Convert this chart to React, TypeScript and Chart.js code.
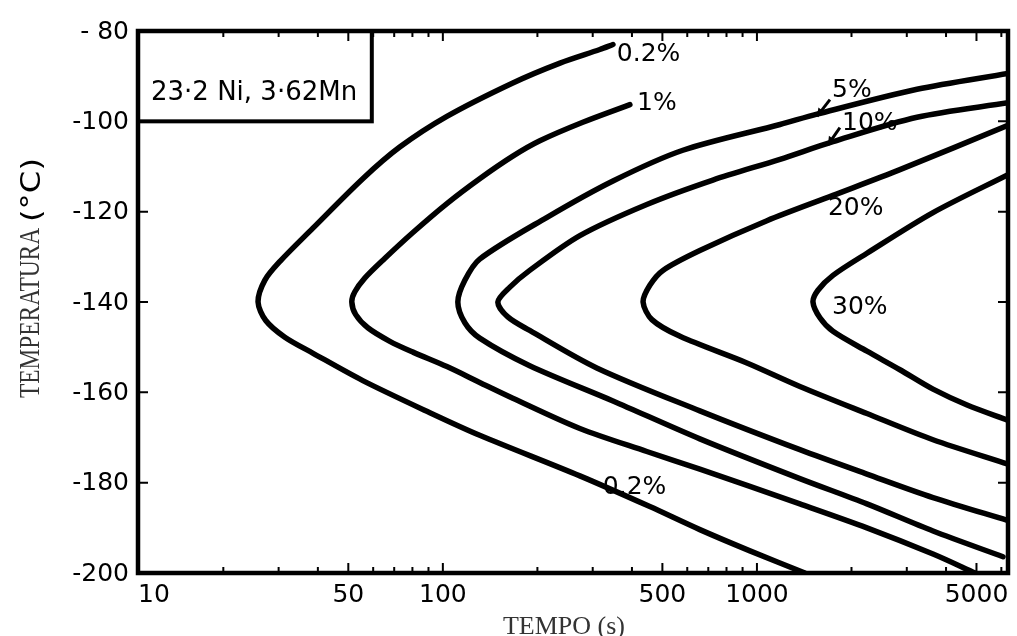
import { useEffect, useRef } from "react";
import { Chart, registerables } from "chart.js";

Chart.register(...registerables);

// ---- axis definitions ----
const xMin = 10.7;
const xMax = 6300;
const yMin = -200;
const yMax = -80;
const xTickValues = [10, 50, 100, 500, 1000, 5000];
const xTickLabels = ["10", "50", "100", "500", "1000", "5000"];
const xMinorTicks = [20, 30, 40, 60, 70, 80, 90, 200, 300, 400, 600, 700, 800, 900, 2000, 3000, 4000, 6000];
const yTickValues = [-80, -100, -120, -140, -160, -180, -200];
const yTickLabels = ["- 80", "-100", "-120", "-140", "-160", "-180", "-200"];

// ---- iso-transformation curves (time s, temperature °C) ----
const c02Time = [348, 316, 236, 167, 103, 72.9, 55.6, 38.5, 30.3, 27.1, 25.8, 27.3, 31.4, 38.5, 55.6, 90.9, 131, 273, 456, 658, 950, 1422];
const c02Temp = [-83.0, -84.1, -87.1, -91.5, -98.9, -105.7, -112.7, -123.7, -131.0, -135.2, -140, -144.1, -147.8, -151.3, -157.4, -164.5, -169.5, -178.5, -185.3, -190.4, -195.1, -200];

const c1Time = [394, 279, 203.6, 167, 131, 103, 80.3, 65.4, 56.4, 52.4, 51.3, 52.8, 57.7, 67.8, 80.3, 103, 131, 167, 273, 446, 658, 1370, 2240, 3636, 4947];
const c1Temp = [-96.3, -100.2, -104.3, -107.7, -112.7, -118.2, -124.6, -130.3, -134.7, -137.8, -140, -142.8, -145.7, -148.7, -151.1, -154.3, -157.8, -161.3, -168.0, -173.1, -177.0, -184.7, -190, -195.8, -200];

const c5Time = [6300, 3233, 1553, 1184, 581, 348, 214, 131, 117.5, 111.6, 117.5, 131, 189, 348, 658, 1370, 2240, 3636, 6073];
const c5Temp = [-89.4, -92.9, -98.4, -100.7, -106.4, -113.2, -121.3, -130.5, -135.2, -140, -144.6, -148, -154.1, -161.9, -170.3, -179.1, -184.7, -190.7, -196.4];

const c10Time = [6300, 3233, 1746, 1184, 724, 446, 273, 189, 163.5, 149.7, 161, 189, 309, 658, 1370, 2240, 3636, 6300];
const c10Temp = [-95.9, -99.1, -104.5, -108.4, -113.0, -118.4, -125.3, -133.0, -136.7, -140, -143.3, -146.3, -154.6, -164.1, -172.7, -178.1, -183.3, -188.4];

const c20Time = [6300, 2853, 1746, 1076, 658, 502, 456, 434, 463, 569, 929, 1370, 2240, 3636, 6300];
const c20Temp = [-100.9, -110.7, -116.4, -122.0, -128.6, -133.0, -136.3, -140, -143.9, -147.6, -153.5, -158.7, -164.7, -170.5, -175.9];

const c30Time = [6300, 3636, 2240, 1746, 1564, 1508, 1587, 1746, 2240, 2853, 3636, 4666, 6300];
const c30Temp = [-111.8, -120.2, -129.2, -134.1, -137.4, -140, -143.5, -146.5, -150.9, -155.0, -159.3, -162.8, -166.2];

// ---- curve labels ----
const curveLabels = ["0.2%", "1%", "5%", "10%", "20%", "30%", "0.2%"];
const curveLabelTimes = [358, 415, 1734, 1866, 1683, 1734, 323];
const curveLabelTemps = [-85.3, -96.1, -93.1, -100.5, -119.3, -141.3, -181.1];

// leader marks (from curve to label)
const pointerFromTimes = [1553, 1683];
const pointerFromTemps = [-98.9, -105.2];
const pointerToTimes = [1708, 1837];
const pointerToTemps = [-95.2, -101.4];

// composition box
const alloyText = "23·2 Ni, 3·62Mn";
const boxCornerTime = 59.4;
const boxCornerTemp = -100;

const xTitle = "TEMPO (s)";
const yTitleMain = "TEMPERATURA";
const yTitleUnit = "(°C)";

const toPoints = (t: number[], v: number[]) => t.map((x, i) => ({ x, y: v[i] }));

const overlayPlugin = {
  id: "overlay",
  afterDatasetsDraw(chart: any) {
    const { ctx, chartArea: a, scales } = chart;
    const xs = scales.x;
    const ys = scales.y;
    ctx.save();
    ctx.strokeStyle = "#000";
    ctx.fillStyle = "#000";

    // frame
    ctx.lineWidth = 4.5;
    ctx.strokeRect(a.left, a.top, a.right - a.left, a.bottom - a.top);

    // x ticks (inward, top and bottom)
    ctx.lineWidth = 2;
    const drawXTick = (v: number, len: number) => {
      const px = xs.getPixelForValue(v);
      if (px <= a.left + 2 || px >= a.right - 2) return;
      ctx.beginPath();
      ctx.moveTo(px, a.bottom);
      ctx.lineTo(px, a.bottom - len);
      ctx.moveTo(px, a.top);
      ctx.lineTo(px, a.top + len);
      ctx.stroke();
    };
    xMinorTicks.forEach((v) => drawXTick(v, 6));
    xTickValues.forEach((v) => drawXTick(v, 10));

    // y ticks (inward, left and right)
    yTickValues.forEach((v) => {
      const py = ys.getPixelForValue(v);
      if (py <= a.top + 2 || py >= a.bottom - 2) return;
      ctx.beginPath();
      ctx.moveTo(a.left, py);
      ctx.lineTo(a.left + 10, py);
      ctx.moveTo(a.right, py);
      ctx.lineTo(a.right - 10, py);
      ctx.stroke();
    });

    // tick labels
    ctx.font = "25px 'DejaVu Sans'";
    ctx.textBaseline = "alphabetic";
    xTickValues.forEach((v, i) => {
      let px = xs.getPixelForValue(v);
      if (px < a.left + 5) {
        ctx.textAlign = "left";
        px = a.left;
      } else {
        ctx.textAlign = "center";
      }
      ctx.fillText(xTickLabels[i], px, a.bottom + 29);
    });
    ctx.textAlign = "right";
    ctx.textBaseline = "middle";
    yTickValues.forEach((v, i) => {
      ctx.fillText(yTickLabels[i], a.left - 9, ys.getPixelForValue(v) + 1);
    });

    // composition box
    const bx = xs.getPixelForValue(boxCornerTime);
    const by = ys.getPixelForValue(boxCornerTemp);
    ctx.lineWidth = 4;
    ctx.strokeRect(a.left, a.top, bx - a.left, by - a.top);
    ctx.textAlign = "left";
    ctx.textBaseline = "middle";
    ctx.font = "26px 'DejaVu Sans'";
    ctx.fillText(alloyText, a.left + 13, (a.top + by) / 2 + 17);

    // curve labels
    ctx.font = "25px 'DejaVu Sans'";
    curveLabels.forEach((t, i) => {
      ctx.fillText(t, xs.getPixelForValue(curveLabelTimes[i]), ys.getPixelForValue(curveLabelTemps[i]));
    });

    // leader marks
    ctx.lineWidth = 3;
    pointerFromTimes.forEach((_, i) => {
      const x0 = xs.getPixelForValue(pointerFromTimes[i]);
      const y0 = ys.getPixelForValue(pointerFromTemps[i]);
      const x1 = xs.getPixelForValue(pointerToTimes[i]);
      const y1 = ys.getPixelForValue(pointerToTemps[i]);
      ctx.beginPath();
      ctx.moveTo(x0, y0);
      ctx.lineTo(x1, y1);
      ctx.stroke();
      const ang = Math.atan2(y0 - y1, x0 - x1);
      ctx.beginPath();
      ctx.moveTo(x0, y0);
      ctx.lineTo(x0 - 9 * Math.cos(ang - 0.5), y0 - 9 * Math.sin(ang - 0.5));
      ctx.lineTo(x0 - 9 * Math.cos(ang + 0.5), y0 - 9 * Math.sin(ang + 0.5));
      ctx.closePath();
      ctx.fill();
    });

    // axis titles
    ctx.fillStyle = "#333";
    ctx.textAlign = "center";
    ctx.textBaseline = "alphabetic";
    ctx.font = "26px 'Liberation Serif'";
    ctx.fillText(xTitle, 564, 634);

    ctx.save();
    ctx.translate(39, 398);
    ctx.rotate(-Math.PI / 2);
    ctx.textAlign = "left";
    ctx.font = "30px 'Liberation Serif'";
    const w = ctx.measureText(yTitleMain).width;
    ctx.scale(170 / w, 1);
    ctx.fillText(yTitleMain, 0, 0);
    ctx.restore();

    ctx.save();
    ctx.translate(40, 222);
    ctx.rotate(-Math.PI / 2);
    ctx.textAlign = "left";
    ctx.fillStyle = "#000";
    ctx.font = "27px 'DejaVu Sans'";
    const w2 = ctx.measureText(yTitleUnit).width;
    ctx.scale(64 / w2, 1);
    ctx.fillText(yTitleUnit, 0, 0);
    ctx.restore();

    ctx.restore();
  },
};

export default function App() {
  const canvasRef = useRef<HTMLCanvasElement | null>(null);

  useEffect(() => {
    if (!canvasRef.current) return;
    const lineStyle = {
      showLine: true,
      borderColor: "#000",
      backgroundColor: "#000",
      borderWidth: 5.5,
      pointRadius: 0,
      tension: 0.3,
      borderCapStyle: "round" as const,
      borderJoinStyle: "round" as const,
      fill: false,
    };
    const chart = new Chart(canvasRef.current, {
      type: "scatter",
      data: {
        datasets: [
          { label: "0.2%", data: toPoints(c02Time, c02Temp), ...lineStyle },
          { label: "1%", data: toPoints(c1Time, c1Temp), ...lineStyle },
          { label: "5%", data: toPoints(c5Time, c5Temp), ...lineStyle },
          { label: "10%", data: toPoints(c10Time, c10Temp), ...lineStyle },
          { label: "20%", data: toPoints(c20Time, c20Temp), ...lineStyle },
          { label: "30%", data: toPoints(c30Time, c30Temp), ...lineStyle },
        ],
      },
      options: {
        animation: false,
        responsive: true,
        maintainAspectRatio: false,
        events: [],
        layout: { padding: { left: 0, right: 9, top: 31, bottom: 0 } },
        plugins: { legend: { display: false }, tooltip: { enabled: false } },
        scales: {
          x: {
            type: "logarithmic",
            min: xMin,
            max: xMax,
            grid: { display: false },
            border: { display: false },
            ticks: { display: false },
            afterFit: (s: any) => {
              s.height = 63;
            },
          },
          y: {
            type: "linear",
            min: yMin,
            max: yMax,
            grid: { display: false },
            border: { display: false },
            ticks: { display: false },
            afterFit: (s: any) => {
              s.width = 138;
            },
          },
        },
      },
      plugins: [overlayPlugin],
    });
    return () => chart.destroy();
  }, []);

  return (
    <div style={{ position: "absolute", left: 0, top: 0, width: 1017, height: 636, background: "#fff" }}>
      <canvas ref={canvasRef} />
    </div>
  );
}
